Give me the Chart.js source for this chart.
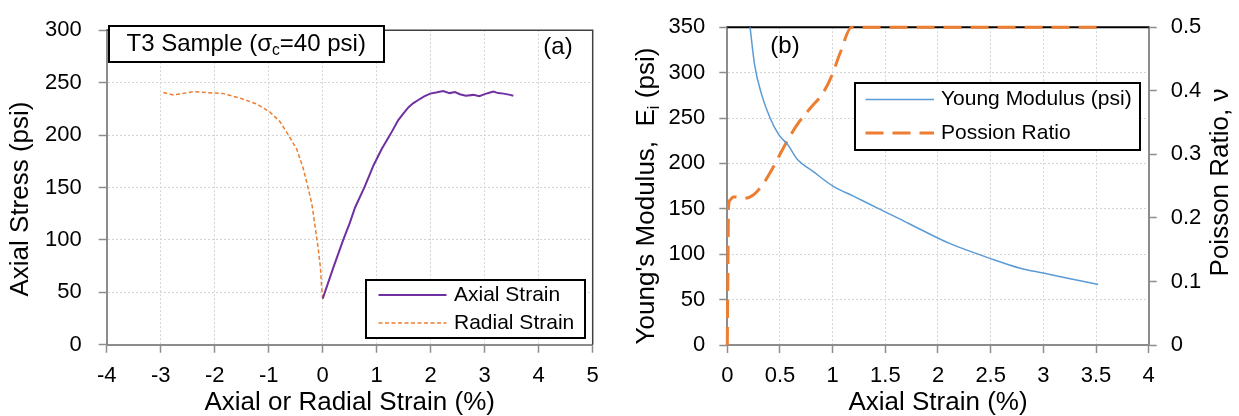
<!DOCTYPE html>
<html>
<head>
<meta charset="utf-8">
<title>T3 Sample - stress strain and moduli</title>
<script src="https://cdn.jsdelivr.net/npm/chart.js@4.4.1/dist/chart.umd.min.js"></script>
<style>
  html, body { margin: 0; padding: 0; background: #fff; }
  #wrap { position: relative; width: 1239px; height: 416px; }
  canvas { position: absolute; top: 0; }
  #stressChart { left: 0; }
  #modulusChart { left: 620px; }
</style>
</head>
<body>
<div id="wrap">
  <canvas id="stressChart" width="620" height="416"></canvas>
  <canvas id="modulusChart" width="619" height="416"></canvas>
</div>
<script>
// (a) axial stress vs axial / radial strain
const axialStrain = [0, 0.1, 0.2, 0.38, 0.5, 0.6, 0.78, 0.94, 1.09, 1.25, 1.4, 1.5, 1.59, 1.68, 1.77, 1.88, 1.99, 2.1, 2.23, 2.35, 2.45, 2.54, 2.65, 2.79, 2.9, 3.0, 3.1, 3.16, 3.25, 3.35, 3.47, 3.53];
const axialStress = [43.9, 59, 74, 100, 116, 130.9, 151, 171, 186.5, 200.4, 214.3, 221, 226.6, 230.5, 233.4, 236.8, 239.5, 240.5, 242, 240, 241, 238.9, 237.5, 238.3, 237, 239, 240.5, 241.4, 240, 239.5, 238.3, 237.5];
const radialStrain = [0, -0.02, -0.04, -0.08, -0.14, -0.2, -0.27, -0.36, -0.48, -0.64, -0.79, -0.98, -1.22, -1.53, -1.84, -2.15, -2.4, -2.6, -2.77, -2.95];
const radialStress = [43.9, 55, 72.2, 90.7, 112.4, 134, 149.4, 168, 186.5, 200.4, 212.7, 222, 229.6, 235.2, 239.5, 240.5, 241.4, 239.5, 238.3, 240.5];

// (b) Young's modulus and Poisson ratio vs axial strain
const modulusStrain = [0.216, 0.26, 0.327, 0.405, 0.485, 0.58, 0.66, 0.817, 1.007, 1.197, 1.45, 1.64, 1.83, 2.115, 2.495, 2.78, 3.0, 3.22, 3.52];
const youngModulus = [350, 307.9, 275.5, 250.3, 232.3, 219.6, 205.2, 190.9, 174.7, 163.9, 149.4, 138.6, 127.5, 111.6, 95.4, 84.6, 79.2, 73.8, 66.6];
const poissonStrain = [0, 0.005, 0.012, 0.026, 0.057, 0.12, 0.168, 0.247, 0.342, 0.437, 0.532, 0.66, 0.785, 0.91, 0.99, 1.07, 1.18, 3.52];
const poissonRatio = [0, 0.1, 0.218, 0.228, 0.233, 0.232, 0.231, 0.236, 0.254, 0.28, 0.31, 0.346, 0.372, 0.397, 0.423, 0.459, 0.5, 0.5];

const FONT = "'Liberation Sans', Arial, sans-serif";
Chart.defaults.font.family = FONT;
Chart.defaults.color = '#000';

const toXY = (xs, ys) => xs.map((x, i) => ({ x: x, y: ys[i] }));
const plainNum = v => String(Number(v.toFixed(1)));

const gridStyle = { color: '#d4d4d4', lineWidth: 1, tickColor: '#8c8c8c', tickLength: 8, tickWidth: 1.5 };
const axisBorder = { color: '#8c8c8c', width: 2, dash: [2, 2] };
const tickFont = { size: 22 };

// text pieces, with optional subscript
function partsWidth(ctx, parts, size) {
    let w = 0;
    parts.forEach(p => {
        ctx.font = (p.sub ? size * 0.65 : size) + 'px ' + FONT;
        w += ctx.measureText(p.t).width;
    });
    return w;
}
function drawParts(ctx, parts, x, y, size) {
    let cx = x;
    parts.forEach(p => {
        ctx.font = (p.sub ? size * 0.65 : size) + 'px ' + FONT;
        ctx.fillText(p.t, cx, p.sub ? y + size * 0.28 : y);
        cx += ctx.measureText(p.t).width;
    });
}

const panelDecor = {
    id: 'panelDecor',
    beforeDatasetsDraw(chart, args, opts) {
        const { ctx, chartArea: a } = chart;
        ctx.save();
        ctx.strokeStyle = opts.frameColor;
        ctx.lineWidth = opts.frameWidth;
        ctx.beginPath();
        ctx.moveTo(a.left, a.top);
        ctx.lineTo(a.right, a.top);
        if (opts.frameRight) ctx.lineTo(a.right, a.bottom);
        ctx.stroke();
        ctx.restore();
    },
    afterDraw(chart, args, opts) {
        const ctx = chart.ctx;
        ctx.save();
        ctx.textBaseline = 'middle';
        ctx.textAlign = 'left';

        (opts.yTitles || []).forEach(t => {
            ctx.save();
            ctx.translate(t.x, t.y);
            ctx.rotate(-Math.PI / 2);
            ctx.fillStyle = '#000';
            const w = partsWidth(ctx, t.parts, t.size);
            drawParts(ctx, t.parts, -w / 2, 0, t.size);
            ctx.restore();
        });

        (opts.notes || []).forEach(n => {
            if (n.box) {
                ctx.fillStyle = '#fff';
                ctx.fillRect(n.box[0], n.box[1], n.box[2], n.box[3]);
                ctx.strokeStyle = '#000';
                ctx.lineWidth = 2;
                ctx.strokeRect(n.box[0], n.box[1], n.box[2], n.box[3]);
            }
            ctx.fillStyle = '#000';
            const w = partsWidth(ctx, n.parts, n.size);
            const x0 = n.align === 'center' ? n.x - w / 2 : n.x;
            drawParts(ctx, n.parts, x0, n.y, n.size);
        });

        const lg = opts.legend;
        if (lg) {
            ctx.fillStyle = '#fff';
            ctx.fillRect(lg.x, lg.y, lg.w, lg.h);
            ctx.strokeStyle = '#000';
            ctx.lineWidth = 2;
            ctx.strokeRect(lg.x, lg.y, lg.w, lg.h);
            chart.data.datasets.forEach((ds, i) => {
                const y = lg.rows[i];
                ctx.strokeStyle = ds.borderColor;
                ctx.lineWidth = ds.borderWidth;
                ctx.setLineDash(ds.borderDash || []);
                ctx.beginPath();
                ctx.moveTo(lg.line[0], y);
                ctx.lineTo(lg.line[1], y);
                ctx.stroke();
                ctx.setLineDash([]);
                ctx.fillStyle = '#000';
                ctx.font = lg.size + 'px ' + FONT;
                ctx.fillText(ds.label, lg.textX, y);
            });
        }
        ctx.restore();
    }
};

// ---- (a) ----
const stressChart = new Chart(document.getElementById('stressChart'), {
    type: 'scatter',
    data: {
        datasets: [{
            label: 'Axial Strain',
            data: toXY(axialStrain, axialStress),
            showLine: true,
            borderColor: '#7030A0',
            borderWidth: 2,
            pointRadius: 0
        }, {
            label: 'Radial Strain',
            data: toXY(radialStrain, radialStress),
            showLine: true,
            borderColor: '#ED7D31',
            borderWidth: 1.5,
            borderDash: [4, 2.5],
            pointRadius: 0
        }]
    },
    options: {
        responsive: false,
        animation: false,
        layout: { padding: { top: 20.7, right: 27.3, left: 0, bottom: 0 } },
        plugins: {
            legend: { display: false },
            tooltip: { enabled: false },
            panelDecor: {
                frameColor: '#404040',
                frameWidth: 1.5,
                frameRight: true,
                yTitles: [{ x: 21, y: 199, size: 26, parts: [{ t: 'Axial Stress (psi)' }] }],
                notes: [
                    { box: [109, 26, 275, 36], x: 126.5, y: 44, size: 24,
                      parts: [{ t: 'T3 Sample (σ' }, { t: 'c', sub: true }, { t: '=40 psi)' }] },
                    { x: 558, y: 47, size: 24, align: 'center', parts: [{ t: '(a)' }] }
                ],
                legend: { x: 366, y: 280, w: 219, h: 58, line: [378.5, 446.5], textX: 454, rows: [295, 323], size: 21 }
            }
        },
        scales: {
            x: {
                type: 'linear',
                min: -4,
                max: 5,
                ticks: { stepSize: 1, padding: 10, font: tickFont, callback: plainNum },
                grid: gridStyle,
                border: axisBorder,
                title: { display: true, text: 'Axial or Radial Strain (%)', font: { size: 26, lineHeight: 1 }, padding: 0 },
                afterFit: s => { s.height = 71.3; }
            },
            y: {
                min: 0,
                max: 300,
                ticks: { stepSize: 50, padding: 17, font: tickFont },
                grid: gridStyle,
                border: axisBorder,
                afterFit: s => { s.width = 106.7; }
            }
        }
    },
    plugins: [panelDecor]
});

// ---- (b) ----
const modulusChart = new Chart(document.getElementById('modulusChart'), {
    type: 'scatter',
    data: {
        datasets: [{
            label: 'Young Modulus (psi)',
            data: toXY(modulusStrain, youngModulus),
            showLine: true,
            borderColor: '#5B9BD5',
            borderWidth: 1.5,
            cubicInterpolationMode: 'monotone',
            pointRadius: 0,
            yAxisID: 'y'
        }, {
            label: 'Possion Ratio',
            data: toXY(poissonStrain, poissonRatio),
            showLine: true,
            borderColor: '#ED7D31',
            borderWidth: 3,
            borderDash: [18, 9],
            cubicInterpolationMode: 'monotone',
            pointRadius: 0,
            clip: 4,
            yAxisID: 'y1'
        }]
    },
    options: {
        responsive: false,
        animation: false,
        layout: { padding: { top: 20.7, right: 0, left: 0, bottom: 0 } },
        plugins: {
            legend: { display: false },
            tooltip: { enabled: false },
            panelDecor: {
                frameColor: '#000',
                frameWidth: 2,
                frameRight: false,
                yTitles: [
                    { x: 27, y: 196, size: 26, parts: [{ t: "Young's Modulus,  E" }, { t: 'i', sub: true }, { t: ' (psi)' }] },
                    { x: 600.5, y: 182.5, size: 26, parts: [{ t: 'Poisson Ratio, ν' }] }
                ],
                notes: [
                    { x: 165, y: 46.7, size: 24, align: 'center', parts: [{ t: '(b)' }] }
                ],
                legend: { x: 235, y: 83, w: 285, h: 67, line: [245.5, 314], textX: 321, rows: [99.5, 133], size: 21 }
            }
        },
        scales: {
            x: {
                type: 'linear',
                min: 0,
                max: 4,
                ticks: { stepSize: 0.5, padding: 10, font: tickFont, callback: plainNum },
                grid: gridStyle,
                border: axisBorder,
                title: { display: true, text: 'Axial Strain (%)', font: { size: 26, lineHeight: 1 }, padding: 0 },
                afterFit: s => { s.height = 71; }
            },
            y: {
                position: 'left',
                min: 0,
                max: 350,
                ticks: { stepSize: 50, padding: 14, font: tickFont },
                grid: gridStyle,
                border: axisBorder,
                afterFit: s => { s.width = 107.3; }
            },
            y1: {
                position: 'right',
                min: 0,
                max: 0.5,
                ticks: { stepSize: 0.1, padding: 14, font: tickFont, callback: plainNum },
                grid: { drawOnChartArea: false, tickColor: '#8c8c8c', tickLength: 8, tickWidth: 1.5 },
                border: { color: '#8c8c8c', width: 2 },
                afterFit: s => { s.width = 90.3; }
            }
        }
    },
    plugins: [panelDecor]
});
</script>
</body>
</html>
